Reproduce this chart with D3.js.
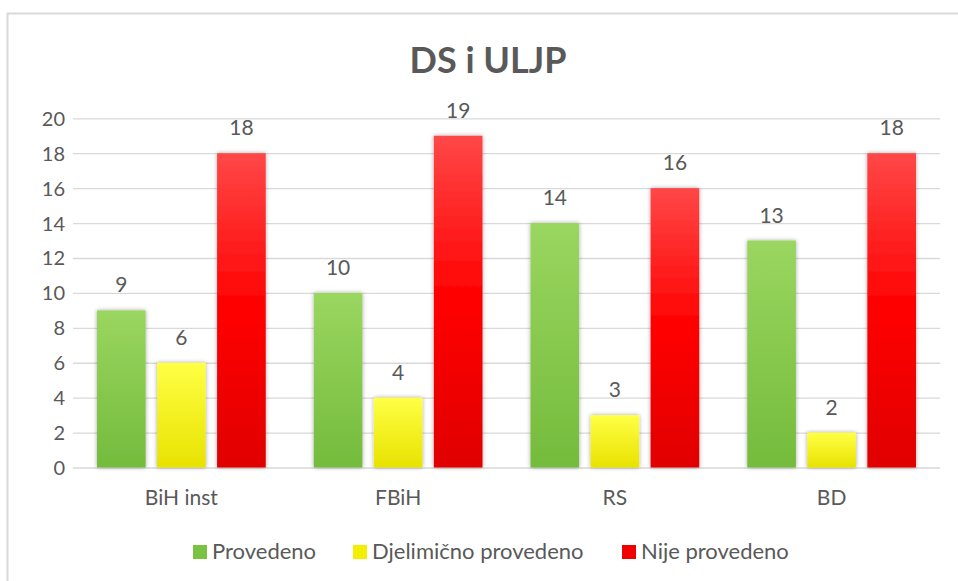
<!DOCTYPE html>
<html>
<head>
<meta charset="utf-8">
<script src="https://cdn.jsdelivr.net/npm/d3@7"></script>
<style>
  html, body { margin: 0; padding: 0; background: #fff; }
  svg { display: block; font-family: Lato, "Open Sans", sans-serif; }
</style>
</head>
<body>
<svg id="chart" width="958" height="581"></svg>
<script>
const title = "DS i ULJP";
const categories = ["BiH inst", "FBiH", "RS", "BD"];
const seriesNames = ["Provedeno", "Djelimično provedeno", "Nije provedeno"];
const provedeno = [9, 10, 14, 13];
const djelimicno = [6, 4, 3, 2];
const nijeProvedeno = [18, 19, 16, 18];
const yTicks = [0, 2, 4, 6, 8, 10, 12, 14, 16, 18, 20];
const seriesValues = [provedeno, djelimicno, nijeProvedeno];
const gradients = [
  ["#9ad660", "#74bb3c"],
  ["#ffff45", "#e8e200"],
  ["#ff4747", "#ff0000", "#e00000"]
];
const legendColors = ["#7cc242", "#f2f000", "#f00000"];

const svg = d3.select("#chart");
const textColor = "#595959";
const gridColor = "#d9d9d9";

// outer border
svg.append("rect")
  .attr("x", 7.5).attr("y", 13.5)
  .attr("width", 1000).attr("height", 700)
  .attr("fill", "#fff").attr("stroke", "#d9d9d9").attr("stroke-width", 2);

const defs = svg.append("defs");
gradients.forEach((stops, i) => {
  const g = defs.append("linearGradient").attr("id", "grad" + i)
    .attr("x1", 0).attr("y1", 0).attr("x2", 0).attr("y2", 1);
  stops.forEach((c, j) => {
    g.append("stop").attr("offset", (j / (stops.length - 1) * 100) + "%").attr("stop-color", c);
  });
});
const f = defs.append("filter").attr("id", "shadow")
  .attr("x", "-30%").attr("y", "-10%").attr("width", "160%").attr("height", "120%");
f.append("feDropShadow").attr("dx", 0).attr("dy", 0).attr("stdDeviation", 2.2)
  .attr("flood-color", "#000").attr("flood-opacity", 0.35);

const plotLeft = 73, plotRight = 940;
const y = d3.scaleLinear().domain([0, 20]).range([467.5, 118.3]);
const x0 = d3.scaleBand().domain(categories).range([plotLeft, plotRight]).padding(0);
const x1 = d3.scaleBand().domain(seriesNames).range([0, x0.bandwidth()])
  .paddingInner(0.19).paddingOuter(0.4);

// title
svg.append("text")
  .attr("x", 488).attr("y", 73)
  .attr("text-anchor", "middle")
  .attr("font-size", 36).attr("font-weight", "bold")
  .attr("fill", textColor)
  .text(title);

// gridlines
const yAxis = d3.axisLeft(y).tickValues(yTicks).tickSize(-(plotRight - plotLeft)).tickPadding(8).tickFormat(d3.format("d"));
const gy = svg.append("g").attr("transform", `translate(${plotLeft},0)`).call(yAxis);
gy.select(".domain").remove();
gy.selectAll(".tick line").attr("stroke", gridColor).attr("stroke-width", 1.3);
gy.selectAll(".tick text").attr("fill", textColor).attr("font-size", 20)
  .attr("font-family", "Lato, sans-serif").attr("dy", "0.35em");

// x axis labels
const xAxis = d3.axisBottom(x0).tickSize(0).tickPadding(23);
const gx = svg.append("g").attr("transform", `translate(0,${y(0)})`).call(xAxis);
gx.select(".domain").remove();
gx.selectAll(".tick text").attr("fill", textColor).attr("font-size", 21)
  .attr("font-family", "Lato, sans-serif");

// bars
const groups = svg.append("g").selectAll("g")
  .data(categories).join("g")
  .attr("transform", d => `translate(${x0(d)},0)`);

seriesNames.forEach((s, si) => {
  groups.append("rect")
    .attr("x", x1(s))
    .attr("y", (d, ci) => y(seriesValues[si][ci]))
    .attr("width", x1.bandwidth())
    .attr("height", (d, ci) => y(0) - y(seriesValues[si][ci]))
    .attr("fill", `url(#grad${si})`)
    .attr("filter", "url(#shadow)");
  groups.append("text")
    .attr("x", x1(s) + x1.bandwidth() / 2)
    .attr("y", (d, ci) => y(seriesValues[si][ci]) - 18)
    .attr("text-anchor", "middle")
    .attr("font-size", 21)
    .attr("fill", textColor)
    .text((d, ci) => seriesValues[si][ci]);
});

// legend
const legendItems = [
  { x: 193, name: seriesNames[0], color: legendColors[0] },
  { x: 353, name: seriesNames[1], color: legendColors[1] },
  { x: 622, name: seriesNames[2], color: legendColors[2] }
];
const lg = svg.append("g").selectAll("g").data(legendItems).join("g")
  .attr("transform", d => `translate(${d.x},552)`);
lg.append("rect").attr("x", 0).attr("y", -7).attr("width", 14).attr("height", 14)
  .attr("fill", d => d.color);
lg.append("text").attr("x", 19).attr("y", 7)
  .attr("font-size", 22).attr("fill", textColor).text(d => d.name);
</script>
</body>
</html>
